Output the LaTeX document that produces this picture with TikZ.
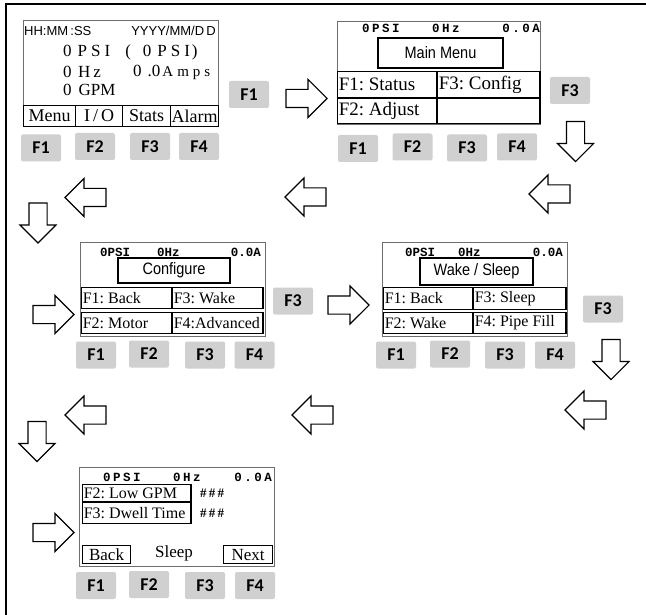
\documentclass[tikz,border=0pt]{standalone}
\usepackage{fontspec}
\setmainfont{Liberation Serif}
\setsansfont{Liberation Sans}
\newfontfamily\keyfont{Carlito}
\newfontfamily\lcdmono{Liberation Mono}
\newfontfamily\lcdsans[FakeStretch=0.88]{Liberation Sans}
\usetikzlibrary{positioning, shapes.arrows}
\definecolor{keygray}{HTML}{D0D0D0}
\definecolor{framegray}{HTML}{6E6E6E}
\newcommand{\fs}[1]{\fontsize{#1}{#1}\selectfont}

\begin{document}
\begin{tikzpicture}[x=1pt, y=-1pt,
      every node/.style={inner sep=0pt},
      screen/.style={draw=framegray, line width=0.9pt, anchor=north west},
      titlebox/.style={draw, line width=2.2pt, font=\lcdsans\fs{16.5}},
      cell/.style={draw, line width=1.1pt, anchor=north west, align=flush left, inner xsep=1.2pt, font=\frenchspacing\fs{16}},
      cellc/.style={draw, line width=1.1pt, anchor=north west, font=\fs{18}},
      topline/.style={font=\lcdmono\bfseries\fs{12.5}\addfontfeature{LetterSpace=20}},
      topnarrow/.style={font=\lcdmono\bfseries\fs{12.5}},
      big/.style={anchor=west, font=\fs{17}},
      fkey/.style={fill=keygray, rounded corners=2pt, minimum width=40pt, minimum height=27pt, font=\keyfont\bfseries\fs{18}},
      blockarrow/.style={single arrow, draw, line width=1.1pt, fill=white, inner xsep=0pt, inner ysep=8.5pt,
                         minimum height=41pt, single arrow head extend=10pt},
      downarrow/.style={blockarrow, shape border rotate=270, inner xsep=8.5pt, inner ysep=0pt, minimum height=40pt,
                        single arrow head extend=9pt}]
    \useasboundingbox (0,0) rectangle (646,615);
    \draw[line width=1.6pt] (6,615) -- (6,4) -- (646,4);

    % home screen
    \node[screen, minimum width=195pt, minimum height=106pt] (home) at (23,20) {};
    \node[anchor=west, font=\sffamily\fs{13}] (clock) at (24,31) {HH:MM\,:SS};
    \node[anchor=east, font=\sffamily\fs{13}] (date) at (216,31) {YYYY/MM/D\,D};
    \node[big] (psi) at (63,52) {0\hspace{6pt}P\hspace{4pt}S\hspace{4pt}I\hspace{15pt}(\hspace{12pt}0\hspace{6pt}P\hspace{4pt}S\hspace{4pt}I\hspace{2pt})};
    \node[big] (hz) at (63,72) {0\hspace{6.5pt}H\hspace{3pt}z};
    \node[big] (amps) at (133,72) {0\hspace{6pt}.0\hspace{2pt}{\fs{15}A\hspace{4pt}m\hspace{4pt}p\hspace{4pt}s}};
    \node[big] (gpm) at (63,90) {0\hspace{7pt}GPM};
    \node[cellc, minimum width=52pt, minimum height=21pt] (menu) at (23,105) {Menu};
    \node[cellc, minimum width=47pt, minimum height=21pt] (io) at (75,105) {I\,/\,O};
    \node[cellc, minimum width=48pt, minimum height=21pt] (stats) at (122,105) {Stats};
    \node[cellc, minimum width=48pt, minimum height=21pt] (alarm) at (170,105) {Alarm};
    \node[fkey] (h1) at (41,148) {F1};
    \node[fkey] (h2) at (95,146.5) {F2};
    \node[fkey] (h3) at (150,146.5) {F3};
    \node[fkey] (h4) at (199,146.5) {F4};

    \node[fkey] (goMenu) at (249,94.5) {F1};
    \node[blockarrow] (toMenu) at (302,98.5) {};

    % main menu
    \node[screen, minimum width=203pt, minimum height=103pt] (main) at (337,21) {};
    \node[topline, anchor=west] (m0) at (362,28) {0PSI};
    \node[topline, anchor=west] (m1) at (432,28) {0Hz};
    \node[topline, anchor=east] (m2) at (540,28) {0.0A};
    \node[titlebox, minimum width=125pt, minimum height=30pt] (mmtitle) at (440.5,53) {Main Menu};
    \node[cell, font=\frenchspacing\fs{19}, text width=97pt, minimum height=26pt] (status) at (337,71) {F1: Status};
    \node[cell, font=\frenchspacing\fs{19}, text width=100pt, minimum height=26pt] (config) at (437,71) {F3: Config};
    \node[cell, font=\frenchspacing\fs{19}, text width=97pt, minimum height=25pt] (adjust) at (337,98) {F2: Adjust};
    \node[cell, font=\frenchspacing\fs{19}, text width=100pt, minimum height=25pt] (blank) at (437,98) {};
    \node[fkey] (m1k) at (358,148.5) {F1};
    \node[fkey] (m2k) at (412.5,147) {F2};
    \node[fkey] (m3k) at (467,148) {F3};
    \node[fkey] (m4k) at (517,147) {F4};

    \node[fkey] (goConfig) at (570,90.5) {F3};
    \node[downarrow] (downA) at (575.5,137) {};

    \node[blockarrow, shape border rotate=180] (backA1) at (554,194) {};
    \node[blockarrow, shape border rotate=180] (backA2) at (310,197) {};
    \node[blockarrow, shape border rotate=180] (backA3) at (90,197.5) {};
    \node[downarrow] (downB) at (38,218.5) {};
    \node[blockarrow] (toConfig) at (49,314.5) {};

    % configure
    \node[screen, minimum width=185pt, minimum height=94pt] (conf) at (80,242) {};
    \node[topnarrow, anchor=west] (c0) at (100,252) {0PSI};
    \node[topnarrow, anchor=west] (c1) at (157,252) {0Hz};
    \node[topnarrow, anchor=east] (c2) at (261,252) {0.0A};
    \node[titlebox, minimum width=112pt, minimum height=25pt] (cftitle) at (174,270.5) {Configure};
    \node[cell, text width=88pt, minimum height=21pt] (cback) at (81,287) {F1: Back};
    \node[cell, text width=88pt, minimum height=21pt] (cwake) at (172,287) {F3: Wake};
    \node[cell, text width=88pt, minimum height=21pt] (motor) at (81,312) {F2: Motor};
    \node[cell, text width=88pt, minimum height=21pt] (adv) at (172,312) {F4:Advanced};
    \node[fkey] (c1k) at (96,355) {F1};
    \node[fkey] (c2k) at (149,354) {F2};
    \node[fkey] (c3k) at (205,355) {F3};
    \node[fkey] (c4k) at (254.5,355) {F4};

    \node[fkey] (goWake) at (293,301) {F3};
    \node[blockarrow] (toWake) at (344,305) {};

    % wake / sleep
    \node[screen, minimum width=185pt, minimum height=94pt] (wake) at (382,242) {};
    \node[topnarrow, anchor=west] (w0) at (405,252) {0PSI};
    \node[topnarrow, anchor=west] (w1) at (458,252) {0Hz};
    \node[topnarrow, anchor=east] (w2) at (563,252) {0.0A};
    \node[titlebox, minimum width=113pt, minimum height=27pt] (wstitle) at (476.5,271.5) {Wake / Sleep};
    \node[cell, text width=87pt, minimum height=22pt] (wback) at (383,287) {F1: Back};
    \node[cell, text width=90pt, minimum height=22pt] (wsleep) at (473,287) {F3: Sleep};
    \node[cell, text width=87pt, minimum height=21pt] (wwake) at (383,312) {F2: Wake};
    \node[cell, text width=90pt, minimum height=21pt] (pipe) at (473,312) {F4: Pipe Fill};
    \node[fkey] (w1k) at (396,355) {F1};
    \node[fkey] (w2k) at (450,354) {F2};
    \node[fkey] (w3k) at (505,355) {F3};
    \node[fkey] (w4k) at (555,355) {F4};

    \node[fkey] (goSleep) at (603,309) {F3};
    \node[downarrow] (downC) at (611,355) {};

    \node[blockarrow, shape border rotate=180] (backB1) at (590,410) {};
    \node[blockarrow, shape border rotate=180] (backB2) at (317,415) {};
    \node[blockarrow, shape border rotate=180] (backB3) at (90,415) {};
    \node[downarrow] (downD) at (37,437) {};
    \node[blockarrow] (toSleep) at (49,532.5) {};

    % sleep
    \node[screen, minimum width=195pt, minimum height=99pt] (sleep) at (79,467) {};
    \node[topline, anchor=west] (s0) at (103,477) {0PSI};
    \node[topline, anchor=west] (s1) at (173,477) {0Hz};
    \node[topline, anchor=east] (s2) at (272,477) {0.0A};
    \node[cell, text width=106pt, minimum height=17pt] (lowgpm) at (82,484) {F2: Low GPM};
    \node[cell, text width=106pt, minimum height=21pt] (dwell) at (82,502) {F3: Dwell Time};
    \node[anchor=west, font=\bfseries\fs{13}] (v1) at (200,493) {\#\,\#\,\#};
    \node[anchor=west, font=\bfseries\fs{13}] (v2) at (200,513) {\#\,\#\,\#};
    \node[cellc, font=\fs{17}, minimum width=48pt, minimum height=18pt] (sback) at (82,545) {Back};
    \node[font=\fs{17}] (stitle) at (174,553) {Sleep};
    \node[cellc, font=\fs{17}, minimum width=49pt, minimum height=18pt] (snext) at (223,545) {Next};
    \node[fkey] (s1k) at (96,585.5) {F1};
    \node[fkey] (s2k) at (149,584.5) {F2};
    \node[fkey] (s3k) at (205,585.5) {F3};
    \node[fkey] (s4k) at (255,585.5) {F4};
  \end{tikzpicture}
\end{document}
